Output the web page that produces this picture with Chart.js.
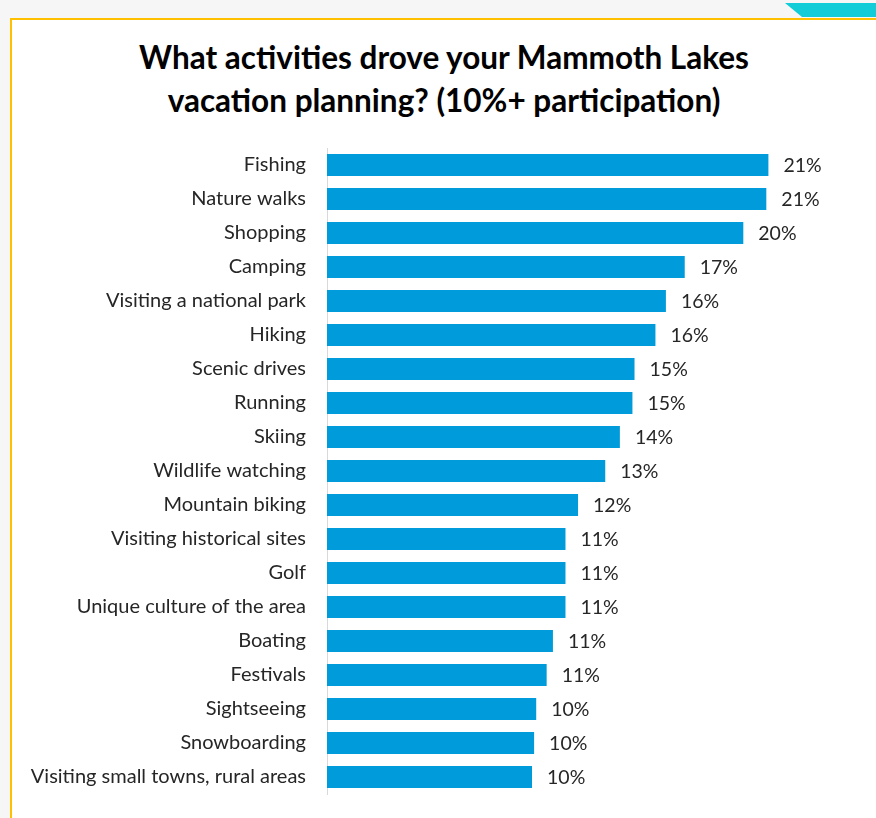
<!DOCTYPE html>
<html>
<head>
<meta charset="utf-8">
<script src="https://cdn.jsdelivr.net/npm/chart.js@4"></script>
<style>
  html, body { margin: 0; padding: 0; }
  body { width: 876px; height: 818px; background: #f6f6f6; position: relative; overflow: hidden; }
  .panel { position: absolute; left: 10px; top: 18px; right: 0; bottom: 0; background: #fff;
           border-left: 2px solid #FFC000; border-top: 2px solid #FFC000; }
  .corner { position: absolute; left: 785px; top: 3px; width: 91px; height: 14px; background: #12CDD8;
            clip-path: polygon(0 0, 100% 0, 100% 100%, 17px 100%); }
  .title { position: absolute; left: 0; width: 888px; top: 36px; text-align: center;
           font-family: Lato, sans-serif; font-weight: bold; font-size: 31.5px; line-height: 43px; color: #000; }
  .wrap { position: absolute; left: 0; top: 148px; width: 876px; height: 660px; }
</style>
</head>
<body>
<div class="panel"></div>
<div class="corner"></div>
<div class="title">What activities drove your Mammoth Lakes<br>vacation planning? (10%+ participation)</div>
<div class="wrap"><canvas id="chart"></canvas></div>
<script>
const activities = ['Fishing', 'Nature walks', 'Shopping', 'Camping', 'Visiting a national park', 'Hiking',
  'Scenic drives', 'Running', 'Skiing', 'Wildlife watching', 'Mountain biking', 'Visiting historical sites',
  'Golf', 'Unique culture of the area', 'Boating', 'Festivals', 'Sightseeing', 'Snowboarding',
  'Visiting small towns, rural areas'];
const shares = [21.1, 21.0, 19.9, 17.1, 16.2, 15.7, 14.7, 14.6, 14.0, 13.3, 12.0, 11.4, 11.4, 11.4, 10.8, 10.5, 10.0, 9.9, 9.8];

const labelFont = '19.5px Lato, sans-serif';

// draws the value next to each bar
const valueLabels = {
  id: 'valueLabels',
  afterDatasetsDraw(chart) {
    const ctx = chart.ctx;
    const meta = chart.getDatasetMeta(0);
    ctx.save();
    ctx.font = labelFont;
    ctx.fillStyle = '#262626';
    ctx.textBaseline = 'middle';
    meta.data.forEach((bar, i) => {
      ctx.fillText(Math.round(shares[i]) + '%', bar.x + 15, bar.y + 1);
    });
    ctx.restore();
  }
};

new Chart(document.getElementById('chart'), {
  type: 'bar',
  data: {
    labels: activities,
    datasets: [{
      data: shares,
      backgroundColor: '#009BDA',
      barPercentage: 0.65,
      categoryPercentage: 1
    }]
  },
  options: {
    indexAxis: 'y',
    responsive: true,
    maintainAspectRatio: false,
    animation: false,
    layout: { padding: { left: 0, right: 26, top: 0, bottom: 14 } },
    plugins: { legend: { display: false }, tooltip: { enabled: false } },
    scales: {
      x: { display: false, min: 0, max: 25 },
      y: {
        grid: { display: false },
        border: { display: true, color: '#d9d9d9', width: 1 },
        ticks: { color: '#262626', font: { family: 'Lato, sans-serif', size: 20 }, padding: 13 },
        afterFit(scale) {
          scale.width = 327;
          scale.paddingTop = 0;
          scale.paddingBottom = 0;
        }
      }
    }
  },
  plugins: [valueLabels]
});
</script>
</body>
</html>
